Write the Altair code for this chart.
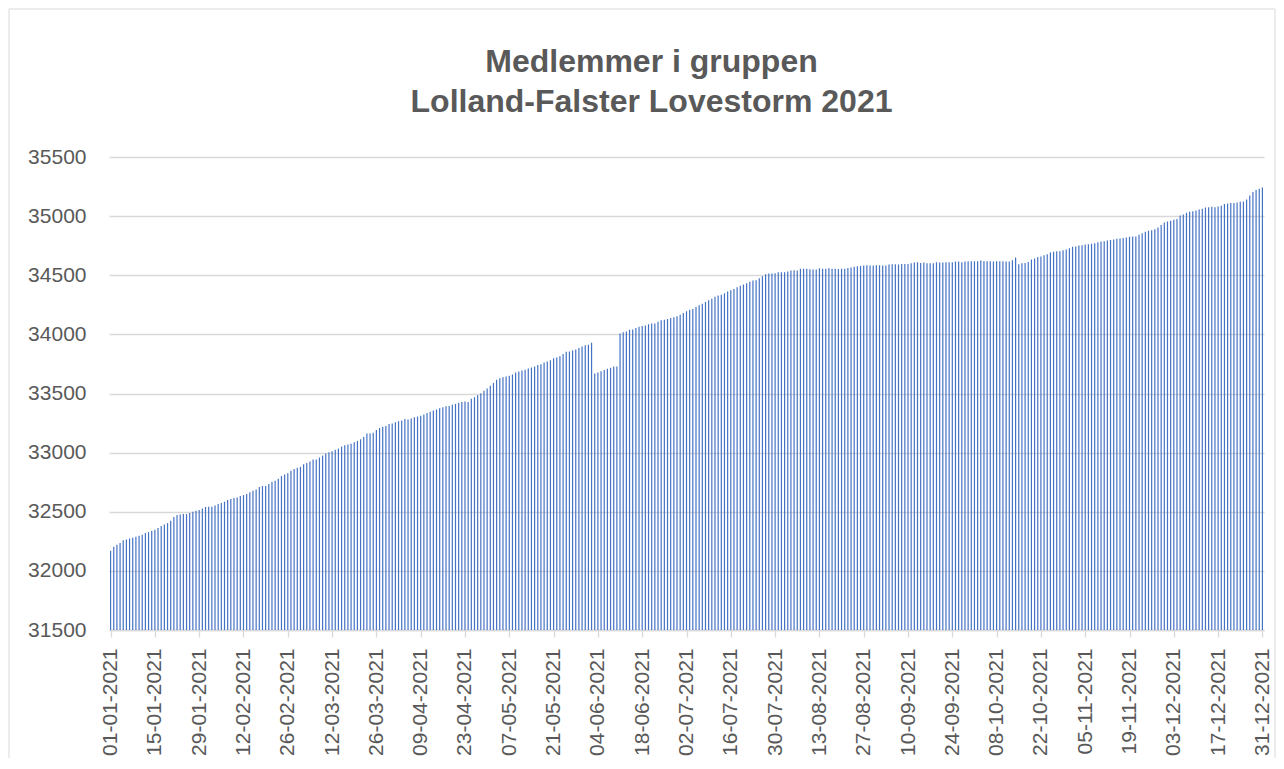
import altair as alt
import pandas as pd

# Daily member counts for 2021 (one list per month)
jan = [32170, 32203, 32220, 32235, 32260, 32265, 32274, 32280, 32288, 32297,
       32305, 32320, 32328, 32339, 32347, 32362, 32379, 32392, 32404, 32424,
       32455, 32472, 32477, 32480, 32480, 32489, 32500, 32508, 32514, 32528,
       32540]
feb = [32542, 32542, 32553, 32565, 32574, 32585, 32599, 32607, 32616,
       32621, 32633, 32641, 32650, 32664, 32678, 32689, 32709, 32718, 32718,
       32735, 32754, 32763, 32780, 32802, 32814, 32825, 32847, 32862]
mar = [32873, 32880, 32901, 32912, 32924, 32941, 32941, 32958, 32975, 32992,
       33003, 33011, 33025, 33034, 33051, 33062, 33068, 33076, 33088, 33099,
       33113, 33133, 33161, 33161, 33169, 33192, 33209, 33218, 33226, 33243,
       33246]
apr = [33257, 33266, 33271, 33285, 33280, 33288, 33299, 33305, 33311, 33322,
       33336, 33345, 33356, 33364, 33376, 33384, 33393, 33395, 33404, 33412,
       33421, 33429, 33432, 33429, 33455, 33469, 33486, 33503, 33523, 33542]
may = [33565, 33590, 33616, 33630, 33638, 33644, 33650, 33661, 33678, 33686,
       33695, 33701, 33712, 33720, 33729, 33740, 33748, 33763, 33771, 33782,
       33799, 33805, 33816, 33833, 33853, 33856, 33864, 33873, 33884, 33898,
       33907]
jun = [33912, 33929, 33669, 33678, 33689, 33698, 33709, 33718, 33729, 33729,
       34008, 34017, 34025, 34040, 34042, 34054, 34065, 34071, 34076, 34085,
       34093, 34093, 34107, 34119, 34124, 34130, 34138, 34144, 34153, 34167]
jul = [34181, 34195, 34209, 34215, 34232, 34246, 34260, 34274, 34288,
       34302, 34319, 34328, 34336, 34347, 34362, 34373, 34384, 34398, 34412,
       34421, 34432, 34446, 34455, 34458, 34475, 34492, 34508, 34514, 34514,
       34517, 34525]
aug = [34525, 34525, 34531, 34540, 34542, 34540, 34556, 34556, 34556, 34551,
       34548, 34548, 34559, 34556, 34556, 34559, 34556, 34556, 34553, 34556,
       34556, 34562, 34565, 34571, 34576, 34579, 34582, 34585, 34582, 34582,
       34585]
sep = [34585, 34582, 34582, 34590, 34593, 34593, 34590,
       34596, 34596, 34596, 34602, 34607, 34610, 34604, 34607, 34602, 34602,
       34602, 34610, 34607, 34607, 34610, 34610, 34610, 34616, 34616, 34610,
       34616, 34619, 34619]
okt = [34619, 34619, 34624, 34619, 34619, 34619, 34616, 34619, 34619, 34619,
       34616, 34616, 34627, 34650, 34593, 34602, 34604, 34613, 34633, 34641,
       34655, 34658, 34669, 34678, 34692, 34698, 34703, 34703, 34712, 34718,
       34729]
nov = [34740, 34743, 34751, 34754, 34760, 34763,
       34766, 34771, 34780, 34785, 34788, 34794, 34799, 34802, 34808, 34811,
       34814, 34819, 34825, 34828, 34828, 34842, 34856, 34867, 34876, 34881,
       34890, 34904, 34926, 34946]
dec = [34955, 34960, 34969, 34975, 35006, 35014,
       35028, 35037, 35042, 35048, 35056, 35062, 35073, 35076, 35079, 35076,
       35082, 35088, 35102, 35107, 35110, 35110, 35116, 35121, 35124, 35141,
       35175, 35203, 35220, 35232, 35243]

tick_labels = ["01-01-2021", "15-01-2021", "29-01-2021", "12-02-2021",
               "26-02-2021", "12-03-2021", "26-03-2021", "09-04-2021",
               "23-04-2021", "07-05-2021", "21-05-2021", "04-06-2021",
               "18-06-2021", "02-07-2021", "16-07-2021", "30-07-2021",
               "13-08-2021", "27-08-2021", "10-09-2021", "24-09-2021",
               "08-10-2021", "22-10-2021", "05-11-2021", "19-11-2021",
               "03-12-2021", "17-12-2021", "31-12-2021"]
y_ticks = [31500, 32000, 32500, 33000, 33500, 34000, 34500, 35000, 35500]
title_lines = ["Medlemmer i gruppen", "Lolland-Falster Lovestorm 2021"]

members = jan + feb + mar + apr + may + jun + jul + aug + sep + okt + nov + dec
dates = pd.date_range("2021-01-01", "2021-12-31", freq="D").strftime("%d-%m-%Y").tolist()
df = pd.DataFrame({"dato": dates, "medlemmer": members})

FONT = "Liberation Sans"
GREY = "#595959"
LINE = "#d9d9d9"

bars = alt.Chart(df).mark_rule(color="#4472C4", strokeWidth=1.2).encode(
    x=alt.X(
        "dato:O",
        sort=None,
        scale=alt.Scale(type="point", padding=0.5),
        axis=alt.Axis(
            values=tick_labels,
            labelAngle=270,
            labelFont=FONT,
            labelFontSize=21,
            labelColor=GREY,
            labelPadding=11,
            labelOverlap=False,
            tickSize=7,
            tickColor=LINE,
            tickWidth=1.3,
            domainColor=LINE,
            domainWidth=1.3,
            grid=False,
            title="",
        ),
    ),
    y=alt.Y(
        "medlemmer:Q",
        scale=alt.Scale(domain=[31500, 35500], nice=False, zero=False),
        axis=alt.Axis(
            values=y_ticks,
            format="d",
            labelFont=FONT,
            labelFontSize=21,
            labelColor=GREY,
            labelPadding=23,
            domain=False,
            ticks=False,
            grid=True,
            gridColor=LINE,
            gridWidth=1.3,
            title="",
        ),
    ),
    y2=alt.datum(31500),
)

frame = alt.Chart(pd.DataFrame({"k": [0]})).mark_rect(
    fillOpacity=0, stroke=LINE, strokeWidth=1
).encode(
    x=alt.value(-100), x2=alt.value(1166),
    y=alt.value(-148), y2=alt.value(700),
)

chart = alt.layer(frame, bars).properties(
    width=1155,
    height=473,
    padding={"left": 101, "top": 149, "right": 12, "bottom": 128},
    autosize=alt.AutoSizeParams(type="none"),
    title=alt.TitleParams(
        text=title_lines,
        font=FONT,
        fontSize=32,
        fontWeight="bold",
        color=GREY,
        anchor="middle",
        dx=-35,
        offset=-110,
        lineHeight=40,
    ),
).configure(background="white").configure_view(strokeWidth=0)

chart.save("out.html", embed_options={"renderer": "svg", "actions": False})
